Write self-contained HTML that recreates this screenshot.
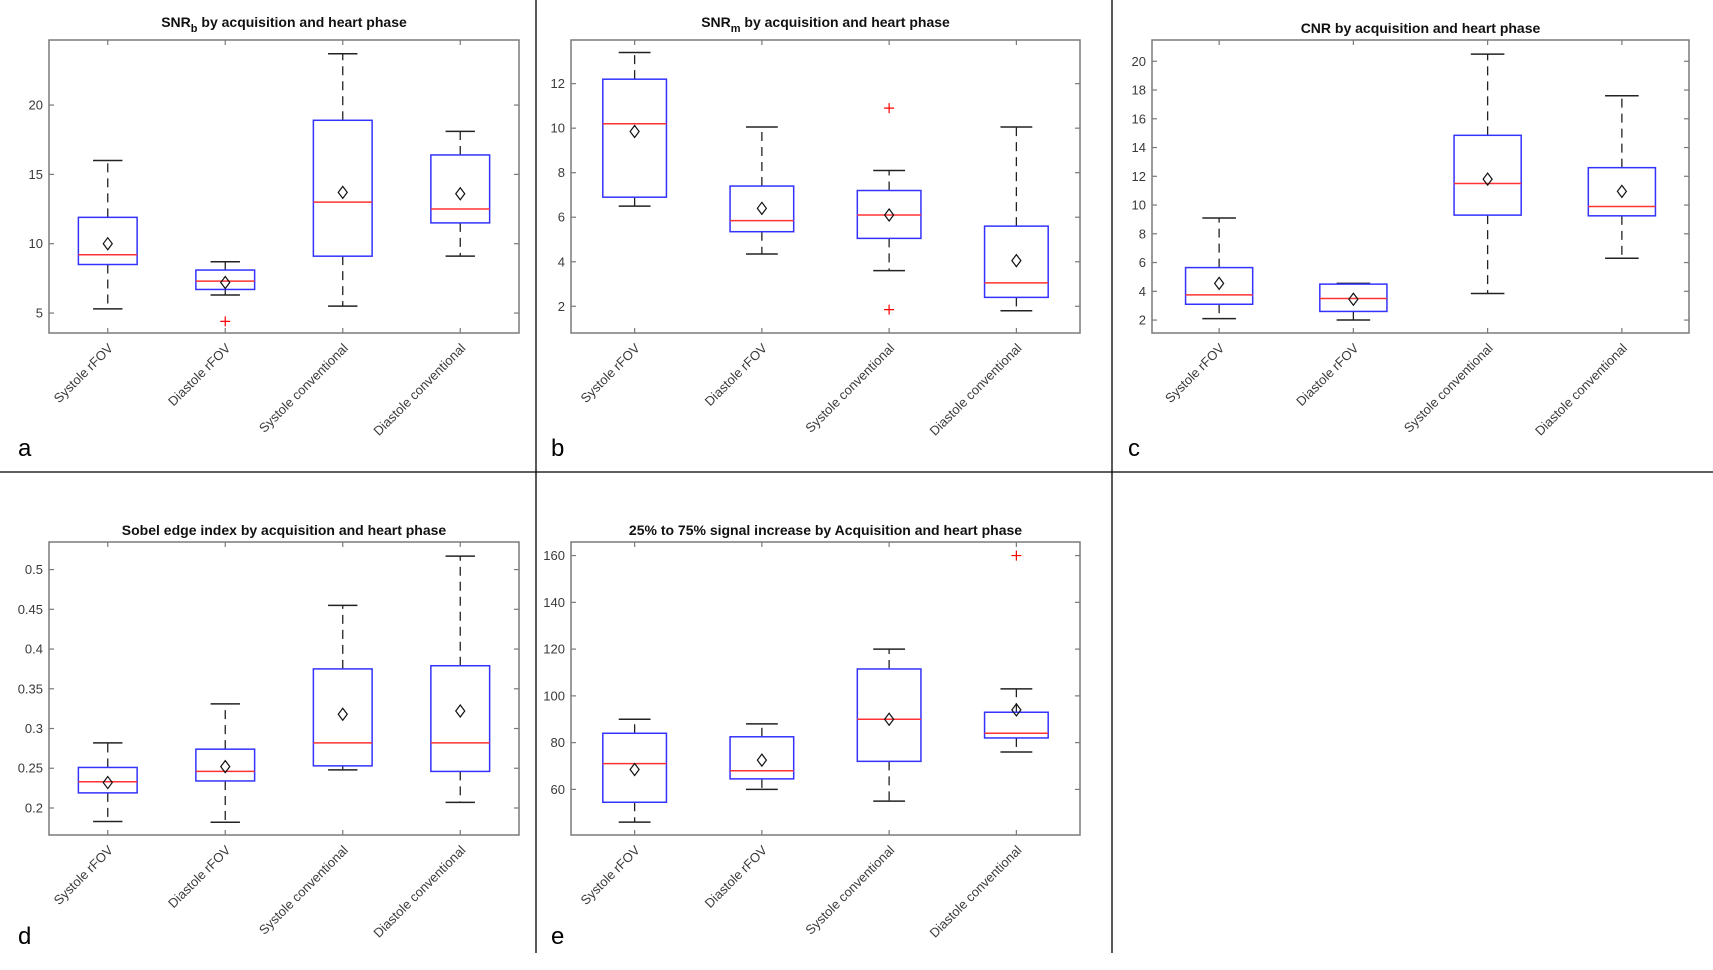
<!DOCTYPE html>
<html><head><meta charset="utf-8"><style>
html,body{margin:0;padding:0;background:#fff;}
svg{display:block;font-family:"Liberation Sans",Arial,sans-serif;}
</style></head><body>
<svg id="fig" width="1713" height="970" viewBox="0 0 1713 970" xmlns="http://www.w3.org/2000/svg">
<line x1="0" y1="472" x2="1713" y2="472" stroke="#000" stroke-width="1.3"/>
<line x1="536" y1="0" x2="536" y2="953" stroke="#000" stroke-width="1.3"/>
<line x1="1112" y1="0" x2="1112" y2="953" stroke="#000" stroke-width="1.3"/>
</svg>
<script>
const categories=["Systole rFOV","Diastole rFOV","Systole conventional","Diastole conventional"];
// panel a: SNRb
const aLow=[5.3,6.3,5.5,9.1];
const aQ1=[8.5,6.7,9.1,11.5];
const aMed=[9.2,7.3,13.0,12.5];
const aQ3=[11.9,8.1,18.9,16.4];
const aHigh=[16.0,8.7,23.7,18.1];
const aMean=[10.0,7.2,13.7,13.6];
const aOut=[[],[4.4],[],[]];
const aTicks=[5,10,15,20];
// panel b: SNRm
const bLow=[6.5,4.35,3.6,1.8];
const bQ1=[6.9,5.35,5.05,2.4];
const bMed=[10.2,5.85,6.1,3.05];
const bQ3=[12.2,7.4,7.2,5.6];
const bHigh=[13.4,10.05,8.1,10.05];
const bMean=[9.85,6.4,6.1,4.05];
const bOut=[[],[],[10.9,1.85],[]];
const bTicks=[2,4,6,8,10,12];
// panel c: CNR
const cLow=[2.1,2.0,3.85,6.3];
const cQ1=[3.1,2.6,9.3,9.25];
const cMed=[3.75,3.5,11.5,9.9];
const cQ3=[5.65,4.5,14.85,12.6];
const cHigh=[9.1,4.55,20.5,17.6];
const cMean=[4.55,3.45,11.8,10.95];
const cOut=[[],[],[],[]];
const cTicks=[2,4,6,8,10,12,14,16,18,20];
// panel d: Sobel
const dLow=[0.183,0.182,0.248,0.207];
const dQ1=[0.219,0.234,0.253,0.246];
const dMed=[0.233,0.246,0.282,0.282];
const dQ3=[0.251,0.274,0.375,0.379];
const dHigh=[0.282,0.331,0.455,0.517];
const dMean=[0.232,0.252,0.318,0.322];
const dOut=[[],[],[],[]];
const dTicks=[0.2,0.25,0.3,0.35,0.4,0.45,0.5];
// panel e: signal increase
const eLow=[46,60,55,76];
const eQ1=[54.5,64.5,72,82];
const eMed=[71,68,90,84];
const eQ3=[84,82.5,111.5,93];
const eHigh=[90,88,120,103];
const eMean=[68.5,72.5,90,94];
const eOut=[[],[],[],[160]];
const eTicks=[60,80,100,120,140,160];

const NS="http://www.w3.org/2000/svg";
const svg=document.getElementById('fig');
function mk(tag,attrs,parent){const e=document.createElementNS(NS,tag);for(const k in attrs)e.setAttribute(k,attrs[k]);(parent||svg).appendChild(e);return e;}

function panel(cfg){
  const g=mk('g',{});
  
  
  const L=cfg.left,R=cfg.right,T=cfg.top,B=cfg.bottom;
  const y=v=>B-(v-cfg.ymin)/(cfg.ymax-cfg.ymin)*(B-T);
  const n=categories.length;
  const x=i=>L+(R-L)*(i+0.5)/n;
  const hw=(R-L)/n*0.25*1.0;
  const box=mk('rect',{x:L,y:T,width:R-L,height:B-T,fill:'none',stroke:'#7a7a7a','stroke-width':1.5},g);
  
  
  cfg.ticks.forEach(t=>{
    const yy=y(t);
    mk('line',{x1:L,y1:yy,x2:L+5,y2:yy,stroke:'#7a7a7a','stroke-width':1.2},g);
    mk('line',{x1:R-5,y1:yy,x2:R,y2:yy,stroke:'#7a7a7a','stroke-width':1.2},g);
    const tl=mk('text',{x:L-6,y:yy+4.5,'text-anchor':'end','font-size':13,fill:'#3a3a3a'},g);
    tl.textContent=String(t);
    
    
  });
  categories.forEach((c,i)=>{
    const xx=x(i);
    mk('line',{x1:xx,y1:T,x2:xx,y2:T+5,stroke:'#7a7a7a','stroke-width':1.2},g);
    mk('line',{x1:xx,y1:B-5,x2:xx,y2:B,stroke:'#7a7a7a','stroke-width':1.2},g);
    const lx=xx+6,ly=B+16;
    const tl=mk('text',{x:lx,y:ly,'text-anchor':'end','font-size':13,fill:'#3a3a3a',transform:`rotate(-45 ${lx} ${ly})`},g);
    tl.textContent=c;
    
    
    const lo=cfg.low[i],q1=cfg.q1[i],md=cfg.med[i],q3=cfg.q3[i],hi=cfg.high[i],mn=cfg.mean[i];
    const w1=mk('line',{x1:xx,y1:y(q3),x2:xx,y2:y(hi),stroke:'#222','stroke-width':1.3,'stroke-dasharray':'9,6'},g);
    
    
    const w2=mk('line',{x1:xx,y1:y(q1),x2:xx,y2:y(lo),stroke:'#222','stroke-width':1.3,'stroke-dasharray':'9,6'},g);
    
    
    const cap1=mk('line',{x1:xx-hw/2,y1:y(hi),x2:xx+hw/2,y2:y(hi),stroke:'#222','stroke-width':1.5},g);
    
    
    const cap2=mk('line',{x1:xx-hw/2,y1:y(lo),x2:xx+hw/2,y2:y(lo),stroke:'#222','stroke-width':1.5},g);
    
    
    const r=mk('rect',{x:xx-hw,y:y(q3),width:2*hw,height:y(q1)-y(q3),fill:'#fff',stroke:'#3333ff','stroke-width':1.5},g);
    
    
    const m=mk('line',{x1:xx-hw,y1:y(md),x2:xx+hw,y2:y(md),stroke:'#ff3333','stroke-width':1.5},g);
    
    
    const my=y(mn);
    const d=mk('polygon',{points:`${xx},${my-6} ${xx+4.5},${my} ${xx},${my+6} ${xx-4.5},${my}`,fill:'none',stroke:'#111','stroke-width':1.2},g);
    
    
    cfg.out[i].forEach(o=>{
      const oy=y(o);
      const p=mk('path',{d:`M${xx-5},${oy}H${xx+5}M${xx},${oy-5}V${oy+5}`,stroke:'#ff0000','stroke-width':1.2,fill:'none'},g);
      
      
    });
  });
  const t=mk('text',{x:(L+R)/2,y:cfg.titleY,'text-anchor':'middle','font-size':14,'font-weight':'bold',fill:'#111'},g);
  t.innerHTML=cfg.title;
  
  
  const pl=mk('text',{x:cfg.labX,y:cfg.labY,'font-size':24,fill:'#000'},g);
  pl.textContent=cfg.lab;
  
  
}

panel({name:'panel-a-snrb',left:49,right:519,top:40,bottom:333,ymin:3.56,ymax:24.69,ticks:aTicks,low:aLow,q1:aQ1,med:aMed,q3:aQ3,high:aHigh,mean:aMean,out:aOut,
 title:'SNR<tspan font-size="11" dy="5">b</tspan><tspan dy="-5"> by acquisition and heart phase</tspan>',titleY:27,lab:'a',labX:18,labY:456});
panel({name:'panel-b-snrm',left:571,right:1080,top:40,bottom:333,ymin:0.8,ymax:13.96,ticks:bTicks,low:bLow,q1:bQ1,med:bMed,q3:bQ3,high:bHigh,mean:bMean,out:bOut,
 title:'SNR<tspan font-size="11" dy="5">m</tspan><tspan dy="-5"> by acquisition and heart phase</tspan>',titleY:27,lab:'b',labX:551,labY:456});
panel({name:'panel-c-cnr',left:1152,right:1689,top:40,bottom:333,ymin:1.1,ymax:21.48,ticks:cTicks,low:cLow,q1:cQ1,med:cMed,q3:cQ3,high:cHigh,mean:cMean,out:cOut,
 title:'CNR by acquisition and heart phase',titleY:33,lab:'c',labX:1128,labY:456});
panel({name:'panel-d-sobel',left:49,right:519,top:542,bottom:835,ymin:0.166,ymax:0.5347,ticks:dTicks,low:dLow,q1:dQ1,med:dMed,q3:dQ3,high:dHigh,mean:dMean,out:dOut,
 title:'Sobel edge index by acquisition and heart phase',titleY:535,lab:'d',labX:18,labY:944});
panel({name:'panel-e-signal',left:571,right:1080,top:542,bottom:835,ymin:40.5,ymax:165.8,ticks:eTicks,low:eLow,q1:eQ1,med:eMed,q3:eQ3,high:eHigh,mean:eMean,out:eOut,
 title:'25% to 75% signal increase by Acquisition and heart phase',titleY:535,lab:'e',labX:551,labY:944});
</script>
</body></html>
